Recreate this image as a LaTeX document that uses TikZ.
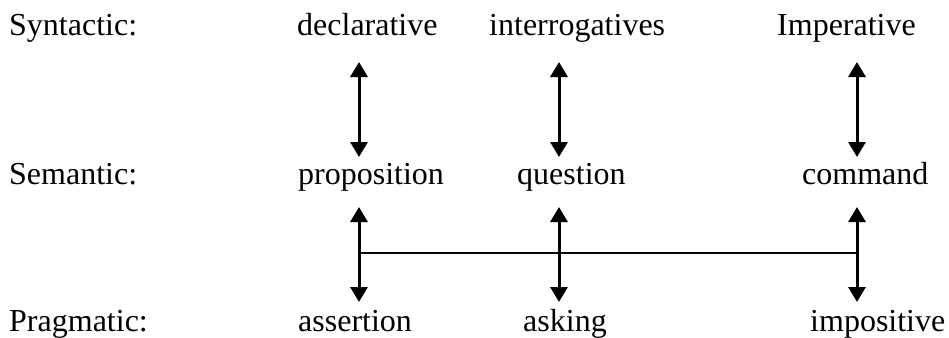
\documentclass[tikz,border=0pt]{standalone}
\usepackage{fontspec}
\setmainfont{Liberation Serif}
\usetikzlibrary{arrows.meta}
\begin{document}
\begin{tikzpicture}[x=1pt,y=-1pt,
  lbl/.style={anchor=base west,inner sep=0pt,font=\fontsize{32}{38}\selectfont},
  dbl/.style={line width=3pt,{Triangle[width=17pt,length=15pt]}-{Triangle[width=17pt,length=15pt]}},
  bar/.style={line width=2.5pt}]
\useasboundingbox (0,0) rectangle (949,337);
% row labels
\node[lbl] (syn) at (9,36) {Syntactic:};
\node[lbl] (sem) at (9,184) {Semantic:};
\node[lbl] (prag) at (9,331) {Pragmatic:};
% column 1
\node[lbl] (decl) at (297,36) {declarative};
\node[lbl] (prop) at (298,184) {proposition};
\node[lbl] (asse) at (298,331) {assertion};
% column 2
\node[lbl] (inte) at (489,36) {interrogatives};
\node[lbl] (ques) at (517,184) {question};
\node[lbl] (aski) at (523,331) {asking};
% column 3
\node[lbl] (impe) at (777,36) {Imperative};
\node[lbl] (comm) at (802,184) {command};
\node[lbl] (impo) at (810,331) {impositive};
% arrow ends
\coordinate (a1t) at (359,62);  \coordinate (a1b) at (359,157);
\coordinate (a2t) at (559,62);  \coordinate (a2b) at (559,157);
\coordinate (a3t) at (857,62);  \coordinate (a3b) at (857,157);
\coordinate (b1t) at (359,207); \coordinate (b1b) at (359,302);
\coordinate (b2t) at (559,207); \coordinate (b2b) at (559,302);
\coordinate (b3t) at (857,207); \coordinate (b3b) at (857,302);
\coordinate (h1) at (359,253);  \coordinate (h3) at (857,253);
\draw[dbl] (a1t) -- (a1b);
\draw[dbl] (a2t) -- (a2b);
\draw[dbl] (a3t) -- (a3b);
\draw[dbl] (b1t) -- (b1b);
\draw[dbl] (b2t) -- (b2b);
\draw[dbl] (b3t) -- (b3b);
\draw[bar] (h1) -- (h3);
\end{tikzpicture}
\end{document}
